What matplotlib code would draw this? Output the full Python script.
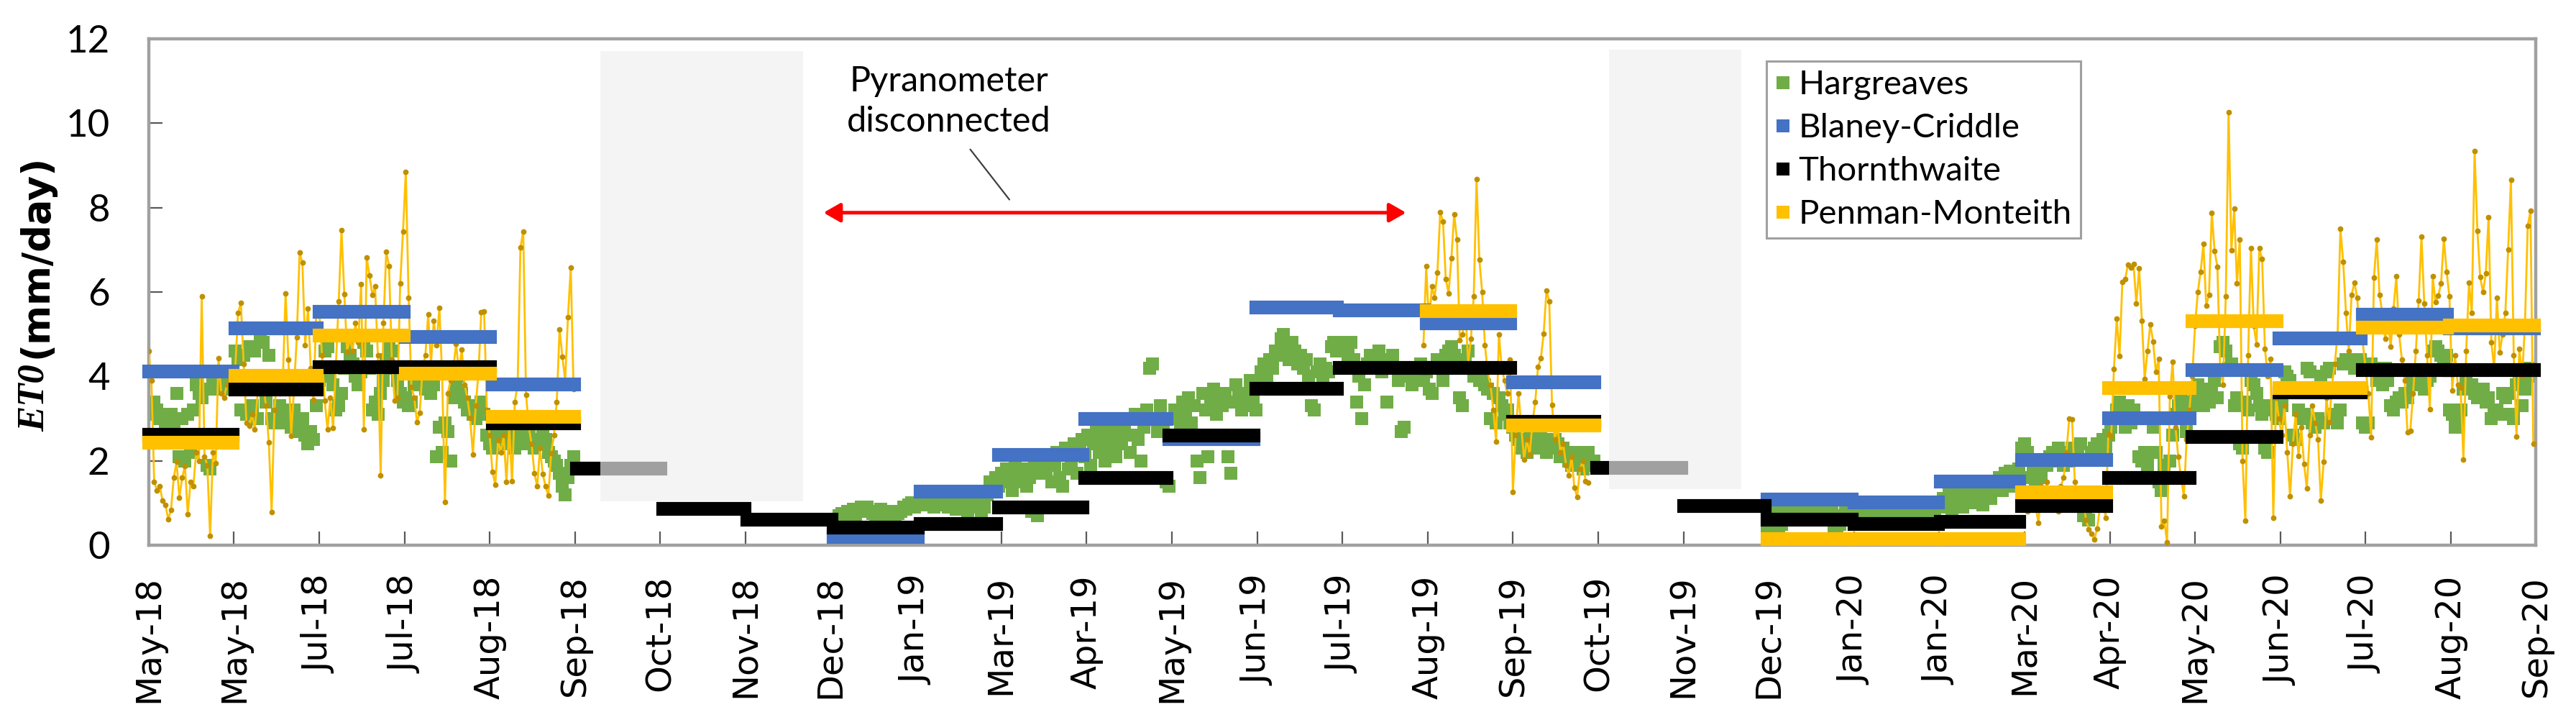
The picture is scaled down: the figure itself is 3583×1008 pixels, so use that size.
import numpy as np
import pandas as pd
import matplotlib
matplotlib.use("Agg")
import matplotlib.pyplot as plt
import matplotlib.dates as mdates
from matplotlib.lines import Line2D
from matplotlib.patches import Rectangle

GREEN = '#70AD47'
BLUE = '#4472C4'
BLACK = '#000000'
GOLD = '#FFC000'
DARKGOLD = '#BF9000'
AXISGREY = '#A0A0A0'

# monthly means (mm/day), May 2018 .. Aug 2020, None = not available
months = pd.date_range('2018-05-01', '2020-08-01', freq='MS')
blaney_criddle = [4.13, 5.14, 5.54, 4.95, 3.82, None, None, None, 0.20, 1.27, 2.15, 3.00, 2.52, 5.65,
                  5.57, 5.26, 3.87, None, None, 1.09, 1.03, 1.51, 2.02, 3.02, 4.16, 4.91, 5.48, 5.14]
thornthwaite = [2.62, 3.70, 4.23, 4.23, 2.90, 1.82, 0.87, 0.61, 0.42, 0.51, 0.91, 1.61, 2.61, 3.71,
                4.21, 4.21, 2.94, 1.84, 0.93, 0.62, 0.51, 0.56, 0.93, 1.61, 2.57, 3.63, 4.16, 4.16]
penman_month = [2.44, 4.02, 4.97, 4.07, 3.05, None, None, None, None, None, None, None, None, None,
                None, 5.55, 2.85, None, None, 0.15, 0.15, 0.15, 1.26, 3.73, 5.31, 3.73, 5.17, 5.22]

# Hargreaves, daily
harg_2018_start = '2018-05-01'
harg_2018 = [3.3, 3.1, 3.4, 3.2, 3.0, 3.1, 2.9, 3.0, 3.1, 2.9, 3.6, 2.1, 3.0, 2.0, 3.1, 2.2, 3.2, 3.8, 3.6, 3.5,
             3.7, 1.9, 1.8, 3.9, 3.7, 3.9, 3.8, 3.7, 3.9, 4.1, 3.8,
             4.6, 4.4, 3.2, 4.5, 3.1, 4.7, 3.3, 4.6, 3.0, 4.9, 4.8, 3.4, 4.5, 3.0, 2.9, 3.1, 3.3, 2.9, 3.2, 3.0,
             2.8, 3.2, 2.9, 2.7, 3.0, 2.6, 2.4, 2.7, 2.5, 3.3,
             3.9, 4.1, 4.6, 4.7, 4.0, 3.8, 3.2, 3.3, 3.6, 4.2, 4.7, 4.5, 4.3, 4.0, 3.8, 4.1, 4.8, 4.6, 4.2, 3.2,
             3.4, 3.1, 3.6, 3.9, 4.4, 4.7, 4.6, 4.2, 3.9, 3.6, 3.4,
             3.5, 3.3, 3.4, 3.8, 4.0, 3.9, 4.1, 3.7, 3.9, 3.6, 3.8, 2.1, 2.8, 2.2, 2.9, 2.7, 2.0, 3.5, 3.8, 4.0,
             3.6, 3.4, 3.2, 3.3, 3.1, 3.0, 3.2, 3.4, 3.1, 2.6, 2.4,
             2.3, 2.5, 2.6, 2.4, 2.7, 2.5, 2.6, 2.4, 2.3, 2.6, 2.5, 2.7, 2.4, 2.6, 2.5, 2.3, 2.4, 2.5, 2.6, 2.5,
             2.2, 2.1, 2.0, 1.9, 1.7, 1.4, 1.2, 1.6, 1.9, 2.1]
harg_2019_start = '2019-01-02'
harg_2019 = [0.6, 0.7, 0.75, 0.7, 0.8, 0.75, 0.85, 0.7, 0.8, 0.9, 0.85, 0.9, 0.8, 0.75, 0.7, 0.8, 0.85, 0.7, 0.75,
             0.8, 0.7, 0.65, 0.75, 0.8, 0.9, 0.85, 0.95, 1.0, 0.9, 1.0,
             1.0, 1.05, 0.95, 1.1, 1.0, 0.9, 1.05, 1.1, 0.95, 1.0, 0.9, 1.1, 1.05, 0.85, 1.0, 1.1, 0.95, 0.7, 1.05,
             0.9, 1.15, 1.0, 0.7, 0.9, 1.2, 1.5, 1.3, 1.6,
             1.4, 1.7, 1.5, 1.8, 1.6, 1.3, 1.9, 1.7, 1.5, 1.8, 1.4, 1.6, 0.8, 1.9, 0.7, 1.7, 2.0, 1.8, 2.1, 1.5,
             1.9, 2.2, 1.6, 1.4, 2.3, 1.8, 2.0, 2.4, 1.7, 2.2, 2.5,
             2.1, 2.6, 1.9, 2.4, 2.7, 2.2, 2.5, 2.0, 2.8, 2.3, 2.6, 2.1, 2.9, 2.4, 2.7, 3.0, 2.2, 2.6, 3.1, 2.5,
             2.0, 2.8, 3.2, 4.2, 4.3, 3.0, 2.7, 3.3, 2.9, 1.5,
             1.4, 2.6, 3.2, 3.0, 2.8, 3.4, 3.1, 3.5, 2.9, 3.3, 2.0, 1.6, 3.6, 3.2, 2.1, 3.4, 3.7, 3.1, 3.5, 3.3,
             3.6, 2.1, 1.7, 3.4, 3.8, 3.5, 3.2, 3.3, 3.6, 3.9, 3.4,
             3.2, 3.8, 4.1, 4.3, 4.0, 4.4, 4.2, 4.6, 4.5, 4.9, 5.0, 4.7, 4.4, 4.8, 4.6, 4.3, 4.5, 4.2, 4.4, 4.0,
             3.3, 3.2, 4.1, 4.3, 4.0, 4.2, 4.1, 4.7, 4.8, 4.6,
             4.7, 4.8, 4.6, 4.5, 4.8, 4.4, 3.4, 4.0, 3.0, 3.8, 4.3, 4.5, 4.4, 4.2, 4.6, 4.1, 4.3, 3.4, 4.4, 4.5,
             4.2, 3.9, 2.7, 2.8, 4.0, 4.2, 3.8, 4.1, 3.9, 4.3, 4.0,
             4.1, 3.7, 3.6, 4.2, 4.4, 4.3, 3.9, 4.5, 4.6, 4.7, 4.5, 4.3, 3.5, 3.3, 4.4, 4.6, 4.2, 4.0, 4.1, 3.9,
             4.0, 3.8, 3.7, 3.0, 3.6, 2.9, 3.5, 3.3, 3.1, 3.2, 2.9,
             2.8, 2.6, 2.5, 2.3, 2.4, 2.2, 2.6, 2.5, 2.3, 2.4, 2.6, 2.5, 2.2, 2.4, 2.3, 2.5, 2.4, 2.1, 2.3, 2.2,
             2.0, 1.9, 2.1, 2.2, 2.0, 1.8, 2.1, 2.2, 1.9, 2.0]
harg_2020_start = '2019-12-01'
harg_2020 = [0.4, 0.5, 0.8, 0.85, 0.4, 0.5, 0.9, 0.8, 0.6, 0.7, 0.85, 0.8, 0.6, 0.7, 0.75, 0.8, 0.65, 0.7, 0.8,
             0.85, 0.7, 0.6, 0.75, 0.8, 0.4, 0.45, 0.5, 0.7, 0.8, 0.75, 0.8,
             0.8, 0.75, 0.7, 0.8, 0.85, 0.7, 0.65, 0.8, 0.75, 0.7, 0.85, 0.8, 0.7, 0.65, 0.75, 0.8, 0.7, 0.75, 0.85,
             0.8, 0.7, 0.75, 0.8, 0.85, 0.7, 0.75, 0.8, 0.9, 0.85, 0.8, 1.0,
             0.9, 1.1, 1.0, 1.2, 0.85, 1.1, 1.0, 1.25, 0.9, 1.15, 1.05, 1.2, 1.0, 1.3, 1.1, 0.95, 1.2, 1.3, 1.1,
             1.5, 1.4, 1.6, 1.3, 1.7, 1.5, 1.75, 1.4, 1.6, 1.8,
             2.3, 2.4, 2.2, 1.6, 1.7, 1.5, 1.8, 1.6, 2.0, 1.9, 2.1, 2.2, 2.0, 2.3, 2.1, 1.9, 2.2, 2.0, 2.3, 2.1,
             2.2, 2.4, 0.7, 0.75, 0.6, 2.2, 2.3, 2.4, 2.1, 2.5, 2.3,
             2.6, 2.8, 3.0, 3.2, 3.4, 3.1, 2.8, 3.3, 2.9, 3.2, 3.0, 2.1, 2.0, 2.2, 1.9, 3.0, 2.8, 2.2, 1.5, 1.3,
             1.9, 1.6, 2.0, 2.6, 3.1, 3.3, 3.5, 3.2, 2.7, 3.4,
             3.3, 3.6, 3.8, 3.5, 3.3, 3.7, 3.4, 3.6, 3.9, 3.5, 4.7, 4.8, 4.6, 4.2, 4.3, 3.3, 3.5, 2.4, 2.3, 3.4,
             3.2, 3.9, 3.8, 3.6, 3.3, 3.1, 2.3, 2.2, 3.3, 3.2, 3.1,
             3.0, 3.3, 4.1, 4.0, 3.9, 2.6, 2.5, 3.2, 3.0, 3.1, 4.2, 4.1, 2.9, 2.8, 3.0, 4.0, 2.9, 4.1, 4.2, 3.1,
             3.0, 2.9, 3.2, 4.3, 4.4, 4.3, 4.4, 4.2, 4.3, 4.4,
             2.9, 2.8, 2.9, 4.3, 4.2, 3.9, 4.0, 3.8, 4.2, 3.9, 3.3, 3.2, 3.4, 3.5, 3.4, 3.6, 3.5, 4.0, 3.9, 3.8,
             4.0, 3.9, 3.7, 3.9, 4.0, 4.6, 4.7, 4.6, 4.5, 4.4, 4.5,
             3.2, 3.1, 2.8, 2.9, 3.2, 3.7, 3.9, 3.7, 3.8, 3.6, 3.5, 3.6, 3.7, 3.4, 3.5, 3.0, 3.1, 3.2, 3.1, 3.6,
             3.5, 3.6, 3.1, 3.0, 3.8, 3.9, 3.3, 3.7, 4.2, 4.0, 4.1]

# Penman-Monteith, daily (only while the pyranometer was connected)
pm_2018_start = '2018-05-01'
pm_2018 = [4.6, 3.9, 1.5, 1.3, 1.4, 1.05, 0.96, 0.62, 0.83, 1.6, 1.97, 1.13, 1.6, 1.88, 0.74, 1.5, 1.4, 2.2, 2.0,
           5.9, 2.1, 1.9, 0.22, 2.2, 1.95, 4.43, 3.6, 3.5, 3.8, 3.9, 4.0,
           4.2, 5.5, 5.75, 4.3, 2.9, 2.83, 3.1, 2.74, 3.6, 4.1, 3.8, 3.3, 2.43, 0.78, 3.2, 4.0, 3.6, 3.9, 5.97,
           4.4, 2.59, 3.7, 4.92, 6.93, 6.7, 4.74, 5.6, 4.2, 3.45, 5.6,
           5.6, 4.5, 3.42, 2.74, 3.5, 2.77, 4.3, 5.78, 7.46, 5.95, 4.58, 4.9, 4.6, 5.26, 4.8, 6.18, 2.74, 6.81,
           6.4, 5.94, 6.13, 4.5, 1.65, 5.26, 6.95, 6.62, 4.4, 3.42, 3.5, 6.21, 7.44,
           8.85, 5.87, 3.75, 3.5, 2.92, 3.14, 4.2, 4.5, 5.47, 4.3, 5.32, 4.74, 5.63, 4.0, 1.03, 3.6, 3.9, 4.2,
           4.77, 4.1, 4.64, 3.8, 3.5, 3.02, 2.15, 3.3, 4.1, 5.52, 5.54, 3.2, 2.6,
           1.74, 1.44, 2.49, 2.2, 2.6, 1.5, 2.8, 1.51, 3.4, 3.8, 7.05, 7.44, 3.57, 2.8, 2.4, 1.7, 1.4, 2.3, 1.68,
           1.39, 1.17, 2.19, 2.6, 3.4, 5.12, 4.47, 3.9, 5.41, 6.58, 3.7]
pm_2019_start = '2019-07-31'
pm_2019 = [4.74,
           6.61, 5.2, 6.13, 5.87, 6.46, 7.89, 7.67, 6.3, 5.97, 6.8, 7.84, 7.24, 4.86, 5.0, 5.6, 4.3, 4.9, 5.9,
           8.67, 6.77, 6.0, 4.74, 4.1, 3.8, 3.2, 2.46, 5.0, 4.2, 3.9, 3.6, 4.4,
           1.26, 2.6, 3.6, 2.8, 2.03, 2.5, 2.15, 2.9, 3.4, 4.23, 4.43, 5.01, 6.03, 5.78, 3.32, 2.5, 2.8, 2.2,
           2.4, 1.9, 1.66, 2.1, 1.36, 1.15, 1.8, 2.0, 1.52, 1.48]
pm_2020_start = '2020-03-01'
pm_2020 = [1.2, 1.0, 0.8, 1.3, 1.1, 0.9, 0.53, 1.4, 1.2, 1.5, 1.0, 1.3, 0.9, 0.8, 1.4, 1.6, 2.2, 3.0, 2.98, 1.5,
           1.2, 0.9, 1.1, 0.6, 0.37, 0.28, 0.13, 0.4, 0.9, 1.2, 0.65,
           2.62, 2.59, 4.18, 5.37, 4.49, 6.24, 6.3, 6.65, 6.58, 6.67, 5.72, 6.56, 5.31, 3.94, 4.6, 5.24, 4.83,
           4.1, 4.42, 0.45, 0.58, 0.07, 3.53, 4.35, 2.8, 2.1, 1.6, 1.16, 2.5, 3.2,
           4.0, 5.2, 6.0, 6.48, 7.14, 5.67, 5.94, 7.88, 6.97, 6.6, 4.2, 3.8, 5.89, 10.26, 6.99, 7.97, 6.2, 7.24,
           1.99, 0.58, 4.5, 7.04, 5.2, 4.76, 7.04, 6.78, 4.66, 4.0, 4.42, 0.65, 3.5,
           3.0, 2.6, 3.3, 2.2, 1.16, 2.4, 3.1, 2.12, 2.8, 1.92, 1.35, 2.6, 3.3, 2.9, 2.5, 1.06, 1.97, 3.5, 2.91,
           3.8, 4.3, 5.0, 7.5, 6.71, 5.5, 4.6, 5.93, 6.22, 5.87, 4.9,
           4.8, 4.2, 3.6, 2.56, 6.34, 7.24, 5.93, 5.5, 4.9, 5.3, 4.7, 5.6, 6.37, 5.0, 4.4, 3.9, 2.67, 2.71, 3.6,
           4.61, 5.8, 7.31, 5.72, 4.5, 3.22, 6.37, 5.76, 5.91, 6.2, 7.26, 6.48,
           5.89, 3.67, 4.5, 3.8, 3.73, 2.02, 4.6, 6.22, 5.5, 9.34, 7.45, 6.35, 6.0, 6.44, 7.78, 4.8, 4.2, 5.86,
           4.56, 5.0, 5.5, 7.01, 8.66, 4.5, 2.57, 4.66, 4.0, 5.2, 7.57, 7.92, 2.4]

axis_start = '2018-05-01'
tick_step_days = 30.5
tick_labels = ['May-18', 'May-18', 'Jul-18', 'Jul-18', 'Aug-18', 'Sep-18', 'Oct-18', 'Nov-18', 'Dec-18',
               'Jan-19', 'Mar-19', 'Apr-19', 'May-19', 'Jun-19', 'Jul-19', 'Aug-19', 'Sep-19', 'Oct-19',
               'Nov-19', 'Dec-19', 'Jan-20', 'Jan-20', 'Mar-20', 'Apr-20', 'May-20', 'Jun-20', 'Jul-20',
               'Aug-20', 'Sep-20']
series_names = ['Hargreaves', 'Blaney-Criddle', 'Thornthwaite', 'Penman-Monteith']

SANS = ['Lato', 'DejaVu Sans']
BAR_LW = 6.9


def daily_x(start, values):
    return mdates.date2num(pd.date_range(start, periods=len(values), freq='D'))


def monthly_bars(ax, values, color, z):
    xs, ys = [], []
    for m, v in zip(months, values):
        if v is None:
            continue
        end = m + pd.offsets.MonthEnd(0)
        xs += [mdates.date2num(m), mdates.date2num(end), np.nan]
        ys += [v, v, np.nan]
    ax.plot(xs, ys, color=color, lw=BAR_LW, solid_capstyle='projecting', zorder=z, clip_on=False)


fig = plt.figure(figsize=(3583 / 200, 1008 / 200), dpi=200)
ax = fig.add_axes([0.05769, 0.24802, 0.92682, 0.69841])

base = mdates.date2num(pd.Timestamp(axis_start))

for start, vals in [(harg_2018_start, harg_2018), (harg_2019_start, harg_2019), (harg_2020_start, harg_2020)]:
    ax.plot(daily_x(start, vals), vals, ls='none', marker='s', ms=6.8, mew=0, color=GREEN, zorder=2)

for start, vals in [(pm_2018_start, pm_2018), (pm_2019_start, pm_2019), (pm_2020_start, pm_2020)]:
    ax.plot(daily_x(start, vals), vals, color=GOLD, lw=1.0, marker='o', ms=2.8, mew=0,
            mfc=DARKGOLD, zorder=3)

monthly_bars(ax, blaney_criddle, BLUE, 4)
monthly_bars(ax, thornthwaite, BLACK, 5)
monthly_bars(ax, penman_month, GOLD, 6)

# shaded periods without radiation data
for d0, d1, y0, y1 in [(161.6, 234.0, 1.04, 11.71), (522.3, 569.6, 1.33, 11.74)]:
    ax.add_patch(Rectangle((base + d0, y0), d1 - d0, y1 - y0, facecolor=(0.94, 0.94, 0.94),
                           alpha=0.67, edgecolor='none', zorder=7))

ax.annotate('', xy=(base + 449.8, 7.88), xytext=(base + 241.4, 7.88),
            arrowprops=dict(arrowstyle='<|-|>,head_length=0.35,head_width=0.2', color='red',
                            lw=1.8, shrinkA=0, shrinkB=0, mutation_scale=20), zorder=8)
ax.annotate('', xy=(base + 307.9, 8.19), xytext=(base + 293.9, 9.38),
            arrowprops=dict(arrowstyle='-', color='#404040', lw=0.8, shrinkA=0, shrinkB=0), zorder=8)
ax.text(base + 286.3, 10.52, 'Pyranometer\ndisconnected', ha='center', va='center',
        family=SANS, fontsize=17.5, linespacing=1.35, zorder=8)

ax.set_xlim(base, base + 854)
ax.set_ylim(0, 12)
ax.set_yticks(np.arange(0, 13, 2))
ax.set_xticks(base + tick_step_days * np.arange(len(tick_labels)))
ax.set_xticklabels(tick_labels, rotation=90, family='DejaVu Sans', fontsize=17.3)
for lab in ax.get_yticklabels():
    lab.set_family(SANS)
    lab.set_fontsize(19)
ax.tick_params(axis='x', direction='in', length=7, width=0.8, color='#595959', pad=15)
ax.tick_params(axis='y', direction='in', length=7, width=0.8, color='#595959', pad=19.5)
for sp in ax.spines.values():
    sp.set_color(AXISGREY)
    sp.set_linewidth(1.6)

handles = [Line2D([], [], ls='none', marker='s', ms=6.8, mew=0, color=c)
           for c in [GREEN, BLUE, BLACK, GOLD]]
leg = ax.legend(handles, series_names, loc='upper left', bbox_to_anchor=(0.6777, 0.956),
                borderaxespad=0, prop={'family': SANS, 'size': 17}, frameon=True, fancybox=False,
                edgecolor=AXISGREY, framealpha=1, borderpad=0.26, handlelength=0.45,
                handletextpad=0.23, labelspacing=0.38)
leg.get_frame().set_linewidth(1.1)
leg.set_zorder(9)

# y label: italic serif ET0 followed by (mm/day)
t1 = fig.text(0.0134, 1 - 600 / 1008, 'ET0', rotation=90, ha='center', va='bottom',
              family='Liberation Serif', style='italic', weight='bold', fontsize=19)
fig.canvas.draw()
bb = t1.get_window_extent()
fig.text(0.0142, bb.y1 / fig.bbox.height + 0.008, '(mm/day)', rotation=90, ha='center', va='bottom',
         family='DejaVu Sans', weight='bold', fontsize=19)

fig.savefig('out.png', dpi=200)
